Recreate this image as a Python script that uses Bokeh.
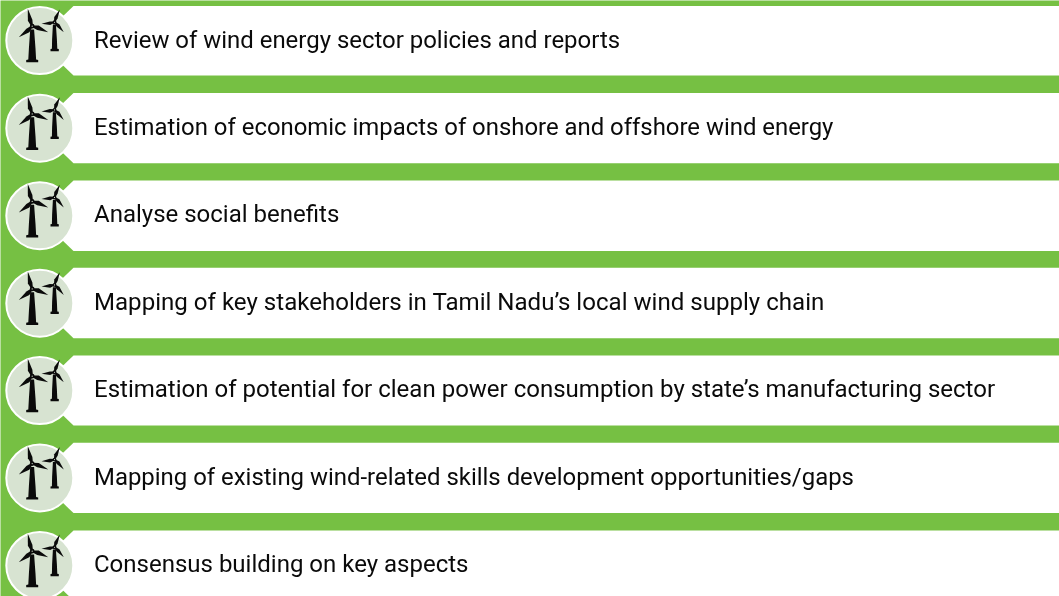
from bokeh.plotting import figure
from bokeh.models import ColumnDataSource, Range1d
from bokeh.core.properties import value
from bokeh.embed import file_html
from bokeh.resources import INLINE

labels = [
    "Review of wind energy sector policies and reports",
    "Estimation of economic impacts of onshore and offshore wind energy",
    "Analyse social benefits",
    "Mapping of key stakeholders in Tamil Nadu\u2019s local wind supply chain",
    "Estimation of potential for clean power consumption by state\u2019s manufacturing sector",
    "Mapping of existing wind-related skills development opportunities/gaps",
    "Consensus building on key aspects",
]
row_top = [5.5, 92.4, 180, 267.3, 355, 442.3, 530]
row_bottom = [75, 162.7, 250.5, 337.8, 425, 512.6, 600]
circle_y = [40, 127.7, 215.2, 302.7, 390, 477.4, 565]
label_y = [39, 126.5, 213.5, 301.5, 388.5, 476.5, 563.5]
label_size = ["23.95px", "23.9px", "24px", "24.08px", "24.03px", "23.93px", "24px"]

GREEN = "#76c043"
CIRCLE = "#d7e3d1"
INK = "#0a0a0a"
W, H = 1059, 596

p = figure(width=W, height=H, x_range=Range1d(0, W), y_range=Range1d(H, 0),
           output_backend="svg", toolbar_location=None, min_border=0,
           outline_line_color=None, background_fill_color=GREEN, border_fill_color=GREEN)
p.axis.visible = False
p.grid.visible = False
p.styles = {"position": "fixed", "left": "0", "top": "0"}

# white bands with a chamfered left end
xs, ys = [], []
for t, b in zip(row_top, row_bottom):
    xs.append([73, W, W, 73, 60, 60])
    ys.append([t, t, b, b, b - 12.5, t + 12.5])
p.patches(xs, ys, fill_color="white", line_color=None)

# badges
p.scatter([39.3] * 7, circle_y, size=67, marker="circle", fill_color=CIRCLE,
          line_color="white", line_width=2)

def blade(cx, cy, dx, dy, w):
    n = (dx * dx + dy * dy) ** 0.5
    nx, ny = -dy / n, dx / n
    return ([cx - nx * w * .25, cx + dx * .35 - nx * w * .9, cx + dx, cx + dx * .35 + nx * w * .55, cx + nx * w * .25],
            [cy - ny * w * .25, cy + dy * .35 - ny * w * .9, cy + dy, cy + dy * .35 + ny * w * .55, cy + ny * w * .25])

tx, ty = [], []
for cy in circle_y:
    # large tower with base plate
    tx.append([29.7, 33.6, 35, 35.6, 37.7, 37.7, 25.7, 25.7, 27.8, 28.4])
    ty.append([cy - 11, cy - 11, cy + 8, cy + 19, cy + 19.5, cy + 21.7, cy + 21.7, cy + 19.5, cy + 19, cy + 8])
    # small tower with base plate
    tx.append([52.4, 55.4, 56.4, 56.8, 58.3, 58.3, 50, 50, 51.4, 51.6])
    ty.append([cy - 16, cy - 16, cy - 1, cy + 8.3, cy + 8.5, cy + 10.7, cy + 10.7, cy + 8.5, cy + 8.3, cy - 1])
    for d in [(-4.4, -17.4), (16, 6), (-13.4, 11)]:
        a, b = blade(31.7, cy - 14.3, d[0], d[1], 3.2)
        tx.append(a); ty.append(b)
    for d in [(5.3, -12.7), (-13, 1.6), (9.3, 10)]:
        a, b = blade(54, cy - 18.3, d[0], d[1], 2.5)
        tx.append(a); ty.append(b)
p.patches(tx, ty, fill_color=INK, line_color=None)
p.scatter([31.7] * 7, [c - 14.3 for c in circle_y], size=3, marker="circle", fill_color=CIRCLE,
          line_color=INK, line_width=1.8)
p.scatter([54] * 7, [c - 18.3 for c in circle_y], size=2.5, marker="circle", fill_color=CIRCLE,
          line_color=INK, line_width=1.4)

src = ColumnDataSource(dict(x=[93.5] * 7, y=label_y, t=labels, s=label_size))
p.text("x", "y", text="t", source=src, text_font=value("Roboto"), text_font_size="s",
       text_baseline="middle", text_align="left", text_color=INK)

open("out.html", "w").write(file_html(p, INLINE))
